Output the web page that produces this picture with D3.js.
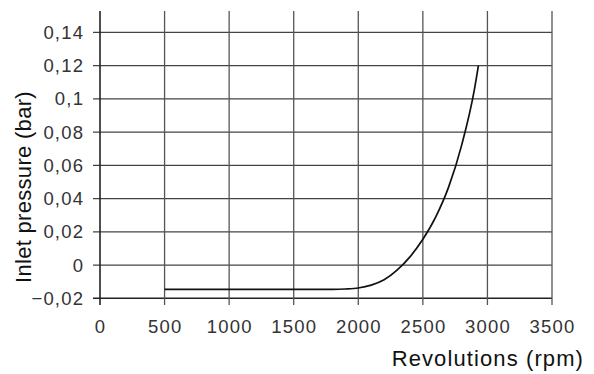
<!DOCTYPE html>
<html>
<head>
<meta charset="utf-8">
<script src="https://cdn.jsdelivr.net/npm/d3@7"></script>
<style>
  body { margin: 0; background: #fff; }
  svg text { font-family: "Liberation Sans", "DejaVu Sans", sans-serif; }
</style>
</head>
<body>
<svg id="chart" width="594" height="374"></svg>
<script>
// x ticks (rpm) and y ticks (bar)
var xTicks = [0, 500, 1000, 1500, 2000, 2500, 3000, 3500];
var yTicks = [-0.02, 0, 0.02, 0.04, 0.06, 0.08, 0.1, 0.12, 0.14];
var yTickLabels = ["\u22120,02", "0", "0,02", "0,04", "0,06", "0,08", "0,1", "0,12", "0,14"];

// curve
var rpm = [500, 1000, 1500, 1800, 1900, 2000, 2100, 2200, 2300, 2400, 2500, 2600, 2700, 2800, 2900, 2930];
var pressure = [-0.0146, -0.0146, -0.0146, -0.0146, -0.0144, -0.0138, -0.0121, -0.0089, -0.0031, 0.0049, 0.0155, 0.029, 0.047, 0.072, 0.106, 0.12];

var svg = d3.select("#chart");

var x = d3.scaleLinear().domain([0, 3500]).range([100, 552]);
var y = d3.scaleLinear().domain([-0.02, 0.14]).range([298.3, 32.3]);
var yTop = 11;
var tickSpacing = 1.2;

// horizontal grid lines (with tick stub on the left)
svg.append("g")
    .selectAll("line")
    .data(yTicks)
    .enter().append("line")
    .attr("x1", 93)
    .attr("x2", x(3500))
    .attr("y1", function (d) { return y(d); })
    .attr("y2", function (d) { return y(d); })
    .attr("stroke", function (d) { return d == -0.02 ? "#222" : "#444"; })
    .attr("stroke-width", function (d) { return d == -0.02 ? 1.6 : 1.3; });

// vertical grid lines (with tick stub below)
svg.append("g")
    .selectAll("line")
    .data(xTicks)
    .enter().append("line")
    .attr("x1", function (d) { return x(d); })
    .attr("x2", function (d) { return x(d); })
    .attr("y1", yTop)
    .attr("y2", 305)
    .attr("stroke", function (d) { return d == 0 ? "#222" : "#555"; })
    .attr("stroke-width", function (d) { return d == 0 ? 1.6 : 1.3; });

// y tick labels
svg.append("g")
    .selectAll("text")
    .data(yTicks)
    .enter().append("text")
    .attr("x", 83 + tickSpacing)
    .attr("y", function (d) { return y(d) + 6.5; })
    .attr("text-anchor", "end")
    .attr("font-size", 18.5)
    .attr("letter-spacing", tickSpacing)
    .attr("fill", "#333")
    .text(function (d, i) { return yTickLabels[i]; });

// x tick labels
svg.append("g")
    .selectAll("text")
    .data(xTicks)
    .enter().append("text")
    .attr("x", function (d) { return x(d) + tickSpacing / 2; })
    .attr("y", 333)
    .attr("text-anchor", "middle")
    .attr("font-size", 18.5)
    .attr("letter-spacing", tickSpacing)
    .attr("fill", "#333")
    .text(function (d) { return d; });

// curve
var line = d3.line()
    .x(function (d, i) { return x(rpm[i]); })
    .y(function (d, i) { return y(pressure[i]); })
    .curve(d3.curveMonotoneX);

svg.append("path")
    .datum(rpm)
    .attr("d", line)
    .attr("fill", "none")
    .attr("stroke", "#111")
    .attr("stroke-width", 1.7);

// axis titles
svg.append("text")
    .attr("x", 584)
    .attr("y", 366)
    .attr("text-anchor", "end")
    .attr("font-size", 22)
    .attr("letter-spacing", 1.1)
    .attr("fill", "#111")
    .text("Revolutions (rpm)");

svg.append("text")
    .attr("transform", "translate(31,187) rotate(-90)")
    .attr("text-anchor", "middle")
    .attr("font-size", 22)
    .attr("letter-spacing", 0.3)
    .attr("fill", "#111")
    .text("Inlet pressure (bar)");
</script>
</body>
</html>
